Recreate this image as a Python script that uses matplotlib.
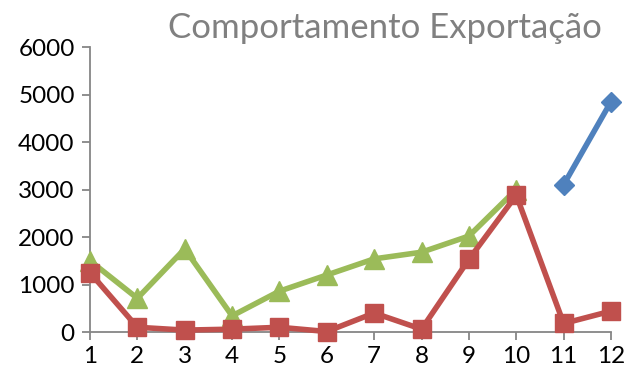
import matplotlib
matplotlib.use("Agg")
import matplotlib.pyplot as plt
import numpy as np

months = list(range(1, 13))
blue_x = [11, 12]
blue_vals = [3100, 4850]
red_vals = [1250, 100, 40, 60, 100, 10, 400, 60, 1530, 2880, 180, 440]
green_x = list(range(1, 11))
green_vals = [1500, 710, 1750, 340, 860, 1200, 1540, 1680, 2020, 3000]
yticks = [0, 1000, 2000, 3000, 4000, 5000, 6000]
title = "Comportamento Exportação"

plt.rcParams['font.family'] = ['Lato', 'DejaVu Sans']

fig = plt.figure(figsize=(6.27, 3.76), dpi=100)
ax = fig.add_axes([0.1435, 0.117, 0.831, 0.758])

ax.plot(green_x, green_vals, color='#9BBB59', lw=4, marker='^', ms=15, zorder=3, clip_on=False)
ax.plot(months, red_vals, color='#C0504D', lw=4, marker='s', ms=13.5, zorder=4, clip_on=False)
ax.plot(blue_x, blue_vals, color='#4F81BD', lw=4, marker='D', ms=10, zorder=5, clip_on=False)

ax.set_xlim(1, 12)
ax.set_ylim(0, 6000)
ax.set_xticks(months)
ax.set_yticks(yticks)
for s in ['top', 'right']:
    ax.spines[s].set_visible(False)
for s in ['left', 'bottom']:
    ax.spines[s].set_color('#868686')
    ax.spines[s].set_linewidth(1.3)
ax.tick_params(axis='both', colors='#868686', labelcolor='black', labelsize=17.5,
               length=6, width=1.3, direction='out')
ax.tick_params(axis='x', pad=4)
ax.tick_params(axis='y', pad=5)

fig.text(0.614, 0.925, title, ha='center', va='center', fontsize=25, color='#808080')

fig.savefig('out.png', dpi=100)
